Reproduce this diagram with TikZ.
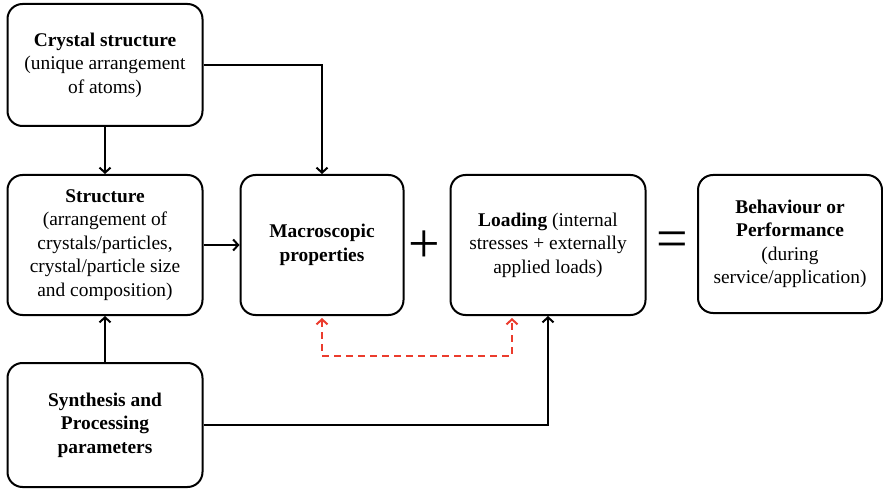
\documentclass[tikz,border=0pt]{standalone}
\usepackage{fontspec}
\setmainfont{Liberation Serif}
\usetikzlibrary{arrows.meta, positioning}
\definecolor{linkred}{RGB}{235, 60, 45}

\begin{document}
\begin{tikzpicture}[x=1pt, y=-1pt, >={Straight Barb[length=5pt, width=11pt]},
  block/.style={draw, line width=2pt, rounded corners=15pt, align=center, inner sep=0pt,
    font=\fontsize{19.4}{23.5}\selectfont},
  link/.style={->, line width=2pt},
  sign/.style={inner sep=0pt, font=\fontsize{56}{56}\selectfont}]
  \useasboundingbox (0,0) rectangle (883,489);

  % Left column
  \node (crystal) [block, minimum width=195pt, minimum height=122pt] at (105, 65)
    {\textbf{Crystal structure}\\(unique arrangement\\of atoms)};

  \node (structure) [block, minimum width=195pt, minimum height=140pt] at (105, 245)
    {\textbf{Structure}\\(arrangement of\\crystals/particles,\\crystal/particle size\\and composition)};

  \node (synthesis) [block, minimum width=195pt, minimum height=124pt] at (105, 425)
    {\textbf{Synthesis and}\\\textbf{Processing}\\\textbf{parameters}};

  % Middle row
  \node (macro) [block, minimum width=163pt, minimum height=140pt] at (322, 245)
    {\textbf{Macroscopic}\\\textbf{properties}};

  \node (loading) [block, minimum width=195pt, minimum height=140pt] at (548, 245)
    {\textbf{Loading} (internal\\stresses + externally\\applied loads)};

  \node (behaviour) [block, minimum width=184pt, minimum height=138pt] at (790, 244)
    {\textbf{Behaviour or}\\\textbf{Performance}\\(during\\service/application)};

  \node (plus) [sign] at (424, 247) {+};
  \node (equals) [sign] at (672, 245) {=};

  \draw[link] (crystal.south) -- (structure.north);
  \draw[link] (crystal.east) -| (macro.north);
  \draw[link] (structure.east) -- (macro.west);
  \draw[link] (synthesis.north) -- (structure.south);
  \draw[link] (synthesis.east) -| (loading.south);

  % coupling between properties and loading
  \coordinate (loadfoot) at ([xshift=-36pt]loading.south);
  \draw[<->, linkred, line width=2pt, dash pattern=on 7pt off 5pt, shorten <=2pt, shorten >=2pt]
    (macro.south) -- ++(0, 40) -| (loadfoot);

\end{tikzpicture}
\end{document}
